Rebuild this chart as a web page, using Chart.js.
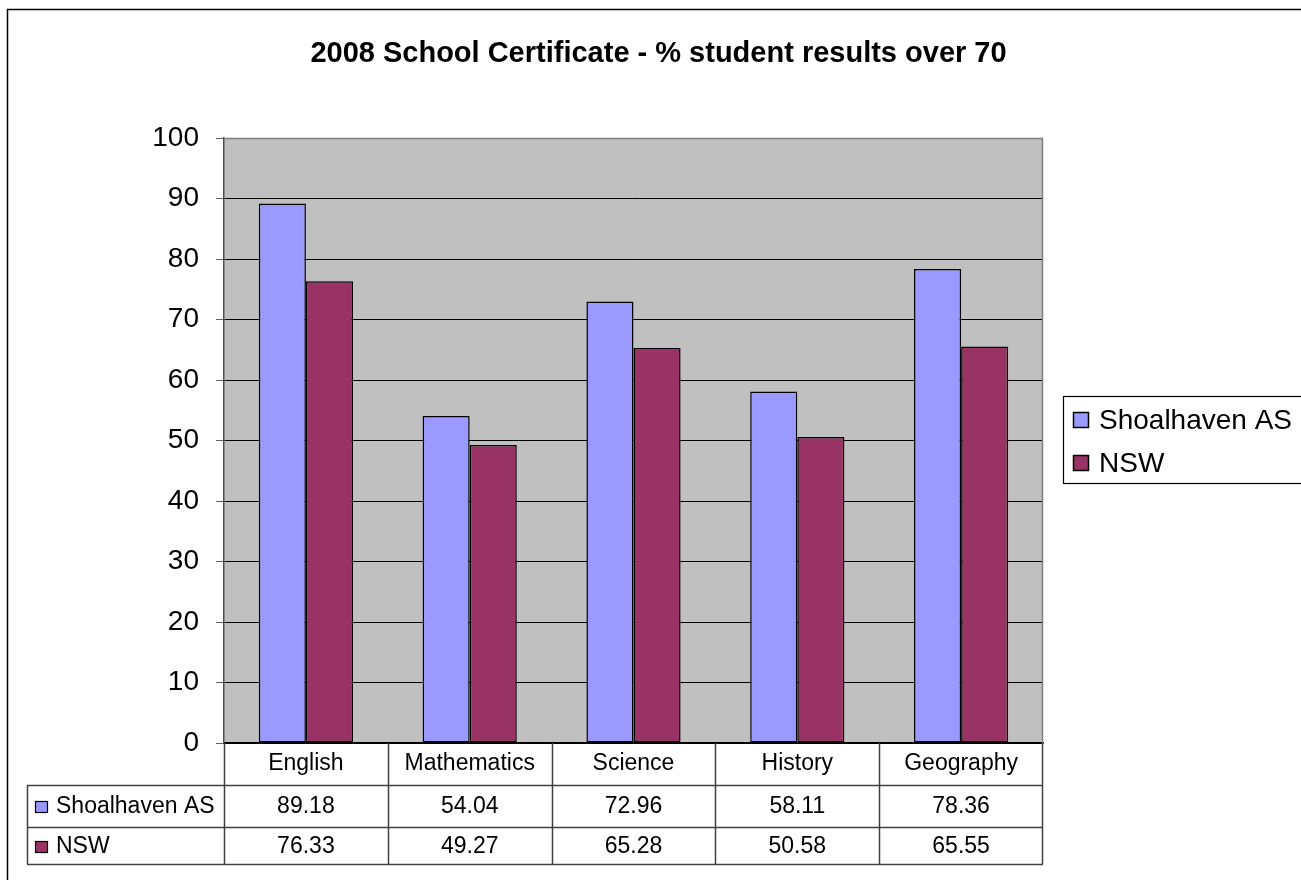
<!DOCTYPE html>
<html>
<head>
<meta charset="utf-8">
<title>2008 School Certificate</title>
<script src="https://cdn.jsdelivr.net/npm/chart.js@4"></script>
<style>
  html, body { margin: 0; padding: 0; background: #fff; }
  #chart { display: block; }
</style>
</head>
<body>
<canvas id="chart" width="1301" height="880"></canvas>
<script>
/* ================= DATA ================= */
const categories = ["English", "Mathematics", "Science", "History", "Geography"];
const seriesNames = ["Shoalhaven AS", "NSW"];
const shoalhaven = [89.18, 54.04, 72.96, 58.11, 78.36];
const nsw = [76.33, 49.27, 65.28, 50.58, 65.55];
const seriesColors = ["#9999FF", "#993366"];
const yMin = 0;
const yMax = 100;
const yStep = 10;

const FONT = "'Liberation Sans', Arial, sans-serif";

/* ================= PLOT AREA + TABLE + LEGEND ================= */
const excelLook = {
  id: "excelLook",
  beforeDraw(chart) {
    const { ctx, chartArea: a } = chart;
    ctx.save();
    ctx.fillStyle = "#fff";
    ctx.fillRect(0, 0, chart.width, chart.height);
    ctx.fillStyle = "#C0C0C0";
    ctx.fillRect(a.left, a.top, a.right - a.left, a.bottom - a.top);
    ctx.restore();
  },
  beforeDatasetsDraw(chart) {
    const { ctx, chartArea: a } = chart;
    ctx.save();
    ctx.strokeStyle = "#808080";
    ctx.lineWidth = 1.5;
    ctx.beginPath();
    ctx.moveTo(a.left, a.top + 0.5);
    ctx.lineTo(a.right - 0.5, a.top + 0.5);
    ctx.lineTo(a.right - 0.5, a.bottom);
    ctx.stroke();
    ctx.restore();
  },
  afterDraw(chart) {
    const { ctx, chartArea: a } = chart;
    const x = chart.scales.x;
    const n = categories.length;
    const colW = (a.right - a.left) / n;
    const rows = [a.bottom, 785, 827, 864];
    const tableLeft = 27;

    ctx.save();

    /* table grid */
    ctx.strokeStyle = "#404040";
    ctx.lineWidth = 1.5;
    ctx.beginPath();
    [rows[1], rows[2], rows[3]].forEach(y => {
      ctx.moveTo(tableLeft, y + 0.5);
      ctx.lineTo(a.right, y + 0.5);
    });
    ctx.moveTo(tableLeft + 0.5, rows[1]);
    ctx.lineTo(tableLeft + 0.5, rows[3]);
    for (let i = 0; i <= n; i++) {
      const cx = Math.round(a.left + colW * i) + (i === n ? -0.5 : 0.5);
      ctx.moveTo(cx, rows[0]);
      ctx.lineTo(cx, rows[3]);
    }
    ctx.stroke();

    /* table text */
    ctx.fillStyle = "#000";
    ctx.font = `23px ${FONT}`;
    ctx.textAlign = "center";
    ctx.textBaseline = "middle";
    const rowMid = [764, 807, 847];
    categories.forEach((c, i) => {
      const cx = x.getPixelForValue(i);
      ctx.fillText(c, cx, rowMid[0]);
      ctx.fillText(shoalhaven[i].toFixed(2), cx, rowMid[1]);
      ctx.fillText(nsw[i].toFixed(2), cx, rowMid[2]);
    });

    /* table series keys */
    ctx.textAlign = "left";
    seriesNames.forEach((name, s) => {
      const cy = rowMid[s + 1];
      ctx.fillStyle = seriesColors[s];
      ctx.fillRect(35, cy - 6, 13, 12);
      ctx.strokeStyle = "#000";
      ctx.lineWidth = 1.2;
      ctx.strokeRect(35.5, cy - 5.5, 12, 11);
      ctx.fillStyle = "#000";
      ctx.fillText(name, 56, cy);
    });

    /* legend */
    ctx.strokeStyle = "#000";
    ctx.lineWidth = 1.2;
    ctx.strokeRect(1063.5, 396.5, 300, 87);
    ctx.font = `28px ${FONT}`;
    const legendMid = [420, 463];
    seriesNames.forEach((name, s) => {
      const cy = legendMid[s];
      ctx.fillStyle = seriesColors[s];
      ctx.fillRect(1073, cy - 8, 16, 16);
      ctx.strokeStyle = "#000";
      ctx.lineWidth = 1.5;
      ctx.strokeRect(1073.5, cy - 7.5, 15, 15);
      ctx.fillStyle = "#000";
      ctx.fillText(name, 1099, cy + 1);
    });

    /* outer chart border */
    ctx.strokeStyle = "#000";
    ctx.lineWidth = 1.5;
    ctx.strokeRect(7.5, 9.5, 1400, 1000);

    ctx.restore();
  }
};

/* ================= CHART ================= */
new Chart(document.getElementById("chart"), {
  type: "bar",
  data: {
    labels: categories,
    datasets: [
      {
        label: seriesNames[0],
        data: shoalhaven,
        backgroundColor: seriesColors[0],
        borderColor: "#000",
        borderWidth: 1.5,
        borderSkipped: false
      },
      {
        label: seriesNames[1],
        data: nsw,
        backgroundColor: seriesColors[1],
        borderColor: "#000",
        borderWidth: 1.5,
        borderSkipped: false
      }
    ]
  },
  options: {
    responsive: false,
    animation: false,
    devicePixelRatio: 1,
    layout: { padding: { left: 16, right: 0, top: 0, bottom: 0 } },
    datasets: {
      bar: { categoryPercentage: 0.575, barPercentage: 1 }
    },
    plugins: {
      legend: { display: false },
      tooltip: { enabled: false },
      title: {
        display: true,
        text: "2008 School Certificate - % student results over 70",
        color: "#000",
        font: { family: FONT, size: 29, weight: "bold" },
        padding: { top: 37, bottom: 66.2 }
      }
    },
    scales: {
      x: {
        afterFit: s => { s.height = 137; },
        ticks: { display: false },
        grid: { display: false },
        border: { display: true, color: "#000", width: 1.5 }
      },
      y: {
        min: yMin,
        max: yMax,
        afterFit: s => { s.width = 208; },
        ticks: {
          stepSize: yStep,
          color: "#000",
          padding: 17,
          font: { family: FONT, size: 28 }
        },
        grid: {
          color: c => (c.tick && c.tick.value === yMax ? "rgba(0,0,0,0)" : "#000"),
          tickColor: "#606060",
          tickLength: 8,
          lineWidth: 1
        },
        border: { display: true, color: "#505050", width: 1.5 }
      },
      /* empty right-hand axis keeps room for the legend */
      legendSpace: {
        axis: "y",
        position: "right",
        display: true,
        afterFit: s => { s.width = 258; },
        ticks: { display: false },
        grid: { display: false },
        border: { display: false }
      }
    }
  },
  plugins: [excelLook]
});
</script>
</body>
</html>
